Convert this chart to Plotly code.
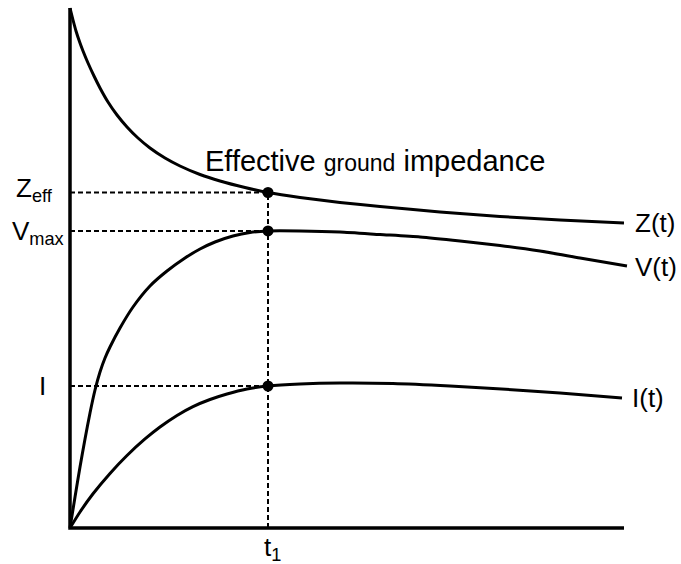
import plotly.graph_objects as go

# ---- data (t in units where t1 = 10; values in arbitrary units, axis top = 100) ----
t1 = 10.0
axis_t_end = 27.98
axis_v_top = 100.0

z_t = [0, 0.152, 0.303, 0.505, 0.657, 0.909, 1.212, 1.515, 1.919, 2.374, 2.879, 3.434,
       4.040, 4.798, 5.556, 6.566, 7.576, 8.838, 10.0, 11.616, 13.636, 15.657, 18.687,
       21.717, 24.747, 27.98]
z_v = [100, 97.69, 95.58, 93.27, 91.73, 89.42, 86.92, 84.62, 81.92, 79.42, 77.12, 75.0,
       73.08, 71.15, 69.62, 67.98, 66.73, 65.48, 64.52, 63.56, 62.6, 61.83, 60.77,
       59.9, 59.23, 58.65]

v_t = [0, 0.253, 0.505, 0.758, 1.010, 1.263, 1.515, 1.768, 2.020, 2.525, 3.182, 4.040,
       4.899, 5.808, 6.566, 7.323, 8.232, 9.091, 10.0, 11.616, 13.636, 15.657, 17.677,
       19.697, 21.717, 23.737, 25.758, 28.131]
v_v = [0, 5.96, 11.73, 17.12, 22.12, 26.54, 30.0, 32.69, 34.81, 38.46, 42.5, 46.54,
       49.42, 51.92, 53.65, 55.0, 56.15, 56.83, 57.12, 57.12, 56.92, 56.44, 55.96,
       55.19, 54.33, 53.27, 51.92, 50.38]

i_t = [0, 0.505, 1.162, 2.020, 2.879, 3.788, 4.545, 5.404, 6.212, 7.071, 7.929, 8.939,
       10.0, 11.616, 13.636, 16.313, 19.192, 21.364, 24.747, 27.879]
i_v = [0, 3.08, 6.58, 10.5, 13.94, 17.12, 19.42, 21.65, 23.35, 24.71, 25.77, 26.73,
       27.31, 27.69, 27.88, 27.79, 27.31, 26.83, 25.96, 25.0]

z_eff = 64.52
v_max = 57.12
i_t1 = 27.31

curve_labels = ["Z(t)", "V(t)", "I(t)"]
level_labels = ["Z<sub>eff</sub>", "V<sub>max</sub>", "I"]
title_text = "Effective <span style='font-size:23px'>ground</span> impedance"

# ---- figure ----
fig = go.Figure()
black = "#000000"
font_family = "Liberation Sans, Arial, sans-serif"

# axes
fig.add_trace(go.Scatter(x=[0, 0, axis_t_end], y=[axis_v_top, 0, 0], mode="lines",
                         line=dict(color=black, width=3.5), hoverinfo="skip"))

# dashed guide lines
for lvl in [z_eff, v_max, i_t1]:
    fig.add_trace(go.Scatter(x=[0, t1], y=[lvl, lvl], mode="lines",
                             line=dict(color=black, width=2, dash="5px,3px"), hoverinfo="skip"))
fig.add_trace(go.Scatter(x=[t1, t1], y=[0, z_eff], mode="lines",
                         line=dict(color=black, width=2, dash="5px,3px"), hoverinfo="skip"))

# curves
for xs, ys in [(z_t, z_v), (v_t, v_v), (i_t, i_v)]:
    fig.add_trace(go.Scatter(x=xs, y=ys, mode="lines",
                             line=dict(color=black, width=3, shape="spline", smoothing=0.6),
                             hoverinfo="skip"))

# dots
fig.add_trace(go.Scatter(x=[t1, t1, t1], y=[z_eff, v_max, i_t1], mode="markers",
                         marker=dict(color=black, size=11), hoverinfo="skip"))

ann = []
# level labels on the left
ann.append(dict(x=-0.75, y=z_eff + 0.5, text=level_labels[0], xanchor="right", yanchor="middle"))
ann.append(dict(x=-0.2, y=v_max - 0.2, text=level_labels[1], xanchor="right", yanchor="middle"))
ann.append(dict(x=-1.41, y=i_t1, text=level_labels[2], xanchor="center", yanchor="middle"))
# t1
ann.append(dict(x=t1 + 0.25, y=-0.4, text="t<sub>1</sub>", xanchor="center", yanchor="top"))
# title
ann.append(dict(x=6.7, y=70.6, text=title_text, xanchor="left", yanchor="middle",
                font=dict(size=29, color=black, family=font_family)))
# curve labels
ann.append(dict(x=28.45, y=z_v[-1], text=curve_labels[0], xanchor="left", yanchor="middle"))
ann.append(dict(x=28.45, y=v_v[-1] - 0.2, text=curve_labels[1], xanchor="left", yanchor="middle"))
ann.append(dict(x=28.3, y=i_v[-1], text=curve_labels[2], xanchor="left", yanchor="middle"))

for a in ann:
    a.setdefault("font", dict(size=26, color=black, family=font_family))
    a.update(xref="x", yref="y", showarrow=False)

fig.update_layout(
    width=681, height=564,
    margin=dict(l=0, r=0, t=0, b=0),
    paper_bgcolor="white", plot_bgcolor="white",
    showlegend=False,
    xaxis=dict(visible=False, range=[-70 / 19.8, 611 / 19.8]),
    yaxis=dict(visible=False, range=[-36 / 5.2, 528 / 5.2]),
    annotations=ann,
)

fig.write_html("out.html")
